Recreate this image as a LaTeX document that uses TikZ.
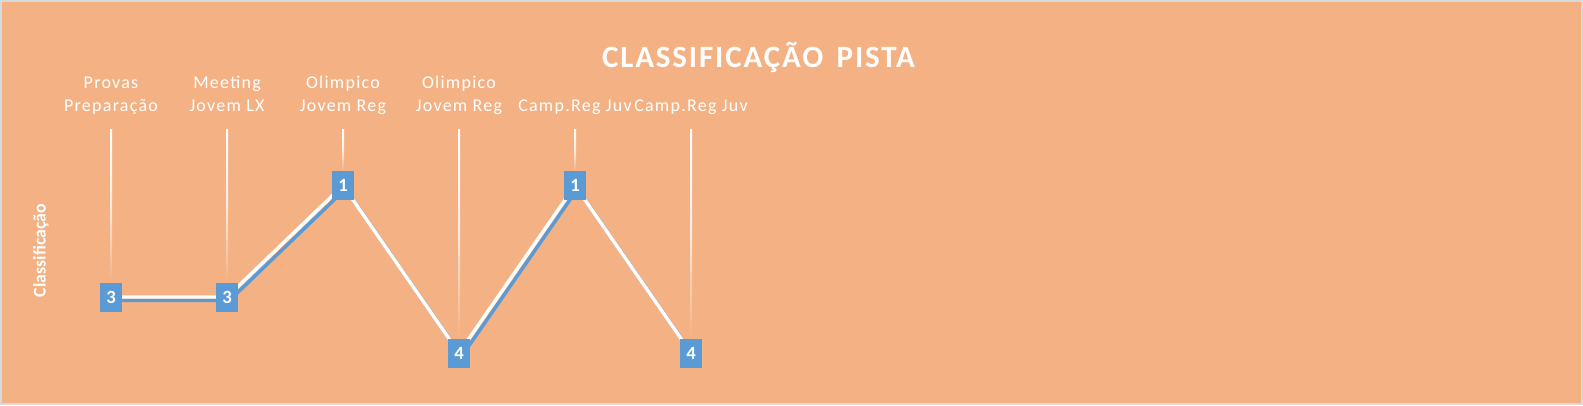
\documentclass[tikz,border=0pt]{standalone}
\usepackage{fontspec}
\setmainfont{Carlito}
\newfontfamily\labfont[LetterSpace=7]{Carlito}
\newfontfamily\titfont[LetterSpace=6]{Carlito}
\definecolor{bgorange}{HTML}{F4B183}
\definecolor{frame}{HTML}{D9D9D9}
\definecolor{serblue}{HTML}{5B9BD5}
\pgfdeclarelayer{background}
\pgfsetlayers{background,main}
\tikzset{
  marker/.style={fill=serblue, text=white, inner sep=0pt, minimum width=17pt, minimum height=21.75pt, font=\fontsize{14}{16}\selectfont\bfseries},
  cat/.style={text=white, anchor=base, inner sep=0pt, font=\labfont\fontsize{13.5}{16}\selectfont},
  shadowline/.style={draw=serblue, line width=2.6pt, line join=miter},
  whiteline/.style={draw=white, line width=2.6pt, line join=miter},
  dropfade/.style={top color=white, bottom color=bgorange, middle color=white!75!bgorange}
}
\begin{document}
\begin{tikzpicture}[x=0.75pt,y=-0.75pt]
\useasboundingbox (0,0) rectangle (1583,405);
% data points
\coordinate (p1) at (111,297);
\coordinate (p2) at (227,297);
\coordinate (p3) at (343,185.5);
\coordinate (p4) at (459,353);
\coordinate (p5) at (575,185.5);
\coordinate (p6) at (691,353);
% markers
\node[marker] (m1) at (p1) {3};
\node[marker] (m2) at (p2) {3};
\node[marker] (m3) at (p3) {1};
\node[marker] (m4) at (p4) {4};
\node[marker] (m5) at (p5) {1};
\node[marker] (m6) at (p6) {4};
% tops of drop lines
\foreach \i/\x in {1/111,2/227,3/343,4/459,5/575,6/691}{
  \coordinate (t\i) at (\x,129);
}
% title and labels
\node[anchor=base, text=white, inner sep=0pt, font=\titfont\fontsize{23.25}{26}\selectfont\bfseries] (title) at (758.5,67.3) {CLASSIFICAÇÃO\hspace{10pt}PISTA};
\node[anchor=base, rotate=90, text=white, inner sep=0pt, font=\fontsize{13.4}{15}\selectfont\bfseries] (ytitle) at (45.5,250.5) {Classificação};
\node[cat] (l1a) at (111,88.3) {Provas};
\node[cat] (l1b) at (111,111) {Preparação};
\node[cat] (l2a) at (227,88.3) {Meeting};
\node[cat] (l2b) at (227,111) {Jovem LX};
\node[cat] (l3a) at (343,88.3) {Olimpico};
\node[cat] (l3b) at (343,111) {Jovem Reg};
\node[cat] (l4a) at (459,88.3) {Olimpico};
\node[cat] (l4b) at (459,111) {Jovem Reg};
\node[cat] (l5b) at (575,111) {Camp.Reg Juv};
\node[cat] (l6b) at (691,111) {Camp.Reg Juv};
\begin{pgfonlayer}{background}
  \fill[frame] (0,0) rectangle (1583,405);
  \fill[bgorange] (2,2) rectangle (1581,403);
  \foreach \i in {1,...,6}{
    \shade[dropfade] ([xshift=-0.75pt]t\i) rectangle ([xshift=0.75pt]m\i.north);
  }
  \draw[shadowline] ([shift={(2.5,3.4)}]p1) -- ([shift={(2.5,3.4)}]p2) -- ([shift={(2.5,3.4)}]p3) -- ([shift={(2.5,3.4)}]p4) -- ([shift={(2.5,3.4)}]p5) -- ([shift={(2.5,3.4)}]p6);
  \draw[whiteline] (p1) -- (p2) -- (p3) -- (p4) -- (p5) -- (p6);
\end{pgfonlayer}
\end{tikzpicture}
\end{document}
